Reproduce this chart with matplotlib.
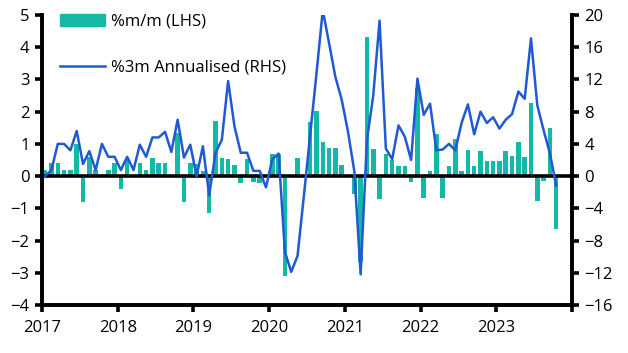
import numpy as np
import matplotlib
matplotlib.use('Agg')
from matplotlib import pyplot as plt
from matplotlib.patches import Patch
from matplotlib.lines import Line2D

plt.rcParams['font.family'] = ['Open Sans', 'DejaVu Sans']

# monthly data, Jan 2017 - Oct 2023
start_year = 2017
mm = [0.2, 0.4, 0.4, 0.2, 0.2, 1.0, -0.8, 0.6, 0.2, 0.0, 0.2, 0.4,
      -0.4, 0.5, 0.0, 0.4, 0.2, 0.55, 0.4, 0.4, 0.0, 1.35, -0.8, 0.4,
      0.37, 0.15, -1.14, 1.7, 0.56, 0.52, 0.34, -0.2, 0.52, -0.19, -0.2, 0.0,
      0.7, 0.7, -3.1, 0.0, 0.56, 0.0, 1.68, 2.02, 1.06, 0.87, 0.87, 0.35,
      0.0, -0.54, -2.65, 4.33, 0.84, -0.7, 0.68, 0.5, 0.31, 0.31, -0.18, 2.72,
      -0.67, 0.16, 1.3, -0.67, 0.31, 1.15, 0.16, 0.81, 0.31, 0.78, 0.47, 0.47,
      0.47, 0.78, 0.62, 1.06, 0.59, 2.27, -0.77, -0.14, 1.49, -1.64]
ann3m = [0.0, 0.75, 4.0, 4.0, 3.2, 5.6, 1.5, 3.1, 0.75, 4.0, 2.4, 2.4,
         0.75, 2.4, 0.75, 3.9, 2.4, 4.8, 4.8, 5.5, 3.0, 7.0, 2.3, 3.9,
         0.0, 3.7, -2.4, 2.9, 4.5, 11.8, 6.2, 2.9, 2.9, 0.65, 0.65, -1.4,
         2.1, 2.8, -9.4, -11.9, -9.9, -2.5, 5.1, 12.7, 20.6, 16.5, 12.3, 9.5,
         5.5, 0.6, -12.2, 4.5, 10.0, 19.3, 3.4, 2.1, 6.3, 4.9, 2.0, 12.1,
         7.6, 9.0, 3.2, 3.3, 4.0, 3.2, 6.6, 8.9, 5.2, 8.0, 6.6, 7.3,
         5.9, 7.0, 7.7, 10.5, 9.6, 17.1, 8.8, 5.7, 2.8, -1.2]
years = list(range(2017, 2025))
year_labels = ['2017', '2018', '2019', '2020', '2021', '2022', '2023', '']

x = start_year + (np.arange(len(mm)) + 0.5) / 12

bar_col = '#14b8a6'
line_col = '#2159d2'

fig = plt.figure(figsize=(6.28, 3.53), dpi=100)
ax = fig.add_axes([42/628, 1 - 305/353, 530/628, 290/353])
ax2 = ax.twinx()

ax.bar(x, mm, width=0.72/12, color=bar_col, zorder=2)
ax.axhline(0, color='black', lw=2.6, zorder=3)
ax2.plot(x, ann3m, color=line_col, lw=1.8)

ax.set_xlim(2017, 2024)
ax.set_ylim(-4, 5)
ax2.set_ylim(-16, 20)
ax.set_yticks(range(-4, 6))
ax2.set_yticks(range(-16, 21, 4))
ax.set_xticks(years)
ax.set_xticklabels(year_labels)

for a in (ax, ax2):
    a.spines['top'].set_visible(False)
    for s in ('left', 'right', 'bottom'):
        a.spines[s].set_linewidth(2.6)
    a.tick_params(width=2.6, length=5, labelsize=12, pad=4)
ax.tick_params(axis='x', pad=6)

handles = [Patch(color=bar_col), Line2D([], [], color=line_col, lw=1.8)]
labels = ['%m/m (LHS)', '%3m Annualised (RHS)']
fig.legend(handles, labels, loc='upper left', bbox_to_anchor=(60/628, 1 - 14/353),
           frameon=False, fontsize=12, labelspacing=1.78, handlelength=2.7,
           handleheight=0.7, handletextpad=0.35, borderpad=0, borderaxespad=0)

fig.savefig('out.png', dpi=100)
